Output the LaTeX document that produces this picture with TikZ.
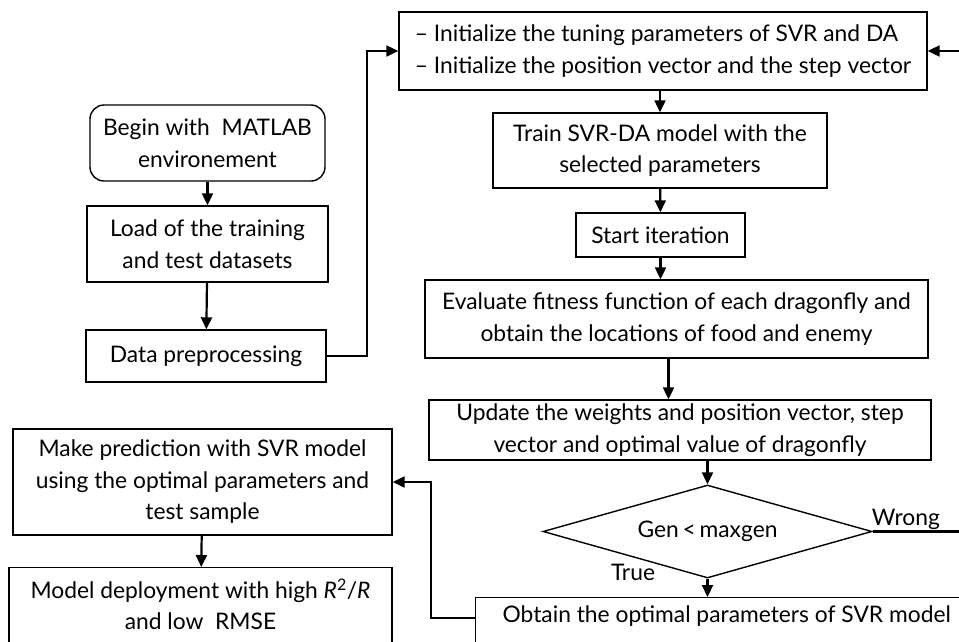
\documentclass[tikz,border=0pt]{standalone}
\usepackage{fontspec}
\setmainfont{Lato}
\usetikzlibrary{arrows.meta,shapes.geometric}
\newcommand\dfont{\fontsize{22.8}{31.5}\selectfont}
\begin{document}
\begin{tikzpicture}[x=1pt,y=-1pt,
  box/.style={draw, line width=1.4pt, rectangle, inner sep=0pt, align=center, font=\dfont},
  arr/.style={line width=2.2pt, -{Triangle[length=12pt,width=11pt]}},
  lab/.style={font=\dfont, inner sep=1pt}]
\useasboundingbox (0,0) rectangle (959,641);
\node[box, minimum width=528, minimum height=78, align=left] (init) at (663,51) {– Initialize the tuning parameters of SVR and DA\\– Initialize the position vector and the step vector};
\node[box, rounded corners=14pt, minimum width=235, minimum height=76] (begin) at (207.5,143) {Begin with\ \ MATLAB\\environement};
\node[box, minimum width=241, minimum height=76] (load) at (207.5,244) {Load of the training\\and test datasets};
\node[box, minimum width=240, minimum height=52] (data) at (206,356) {Data preprocessing};
\node[box, minimum width=334, minimum height=75] (train) at (660,150.5) {Train SVR-DA model with the\\selected parameters};
\node[box, minimum width=169, minimum height=44] (start) at (660.5,235) {Start iteration};
\node[box, minimum width=503, minimum height=78] (eval) at (676.5,319) {Evaluate fitness function of each dragonfly and\\obtain the locations of food and enemy};
\node[box, minimum width=502, minimum height=60] (upd) at (680,430) {Update the weights and position vector, step\\vector and optimal value of dragonfly};
\node[draw, diamond, aspect=3.5, line width=1.4pt, minimum width=329, minimum height=93, inner sep=0pt, font=\dfont] (gen) at (707.5,531.5) {Gen\,<\,maxgen};
\node[box, minimum width=502, minimum height=70, anchor=north west,
  label={[lab, inner sep=8pt, anchor=north]north:Obtain the optimal parameters of SVR model}] (obt) at (475,597) {};
\node[box, minimum width=379, minimum height=106] (pred) at (202.5,482) {Make prediction with SVR model\\using the optimal parameters and\\test sample};
\node[box, minimum width=383, minimum height=100, anchor=north,
  label={[lab, inner sep=12pt, align=center, anchor=north]north:Model deployment with high \textit{R}\textsuperscript{2}/\textit{R}\\and low\ \ RMSE}] (dep) at (200.5,567) {};
\node[lab] (true) at (633,572) {True};
\draw[arr] (begin) -- (load);
\draw[arr] (load) -- (data);
\draw[arr] (data.east) -- ++(40,0) |- (init.west);
\draw[arr] (init.south -| train.north) -- (train.north);
\draw[arr] (train) -- (start);
\draw[arr] (start.south) -- (start.south |- eval.north);
\draw[arr] ([xshift=-8pt]eval.south) -- ([xshift=-8pt]eval.south |- upd.north);
\draw[arr] (upd.south -| gen.north) -- (gen.north);
\draw[arr] (gen.south) -- (gen.south |- obt.north);
\draw[arr] ([yshift=-21pt]obt.north west) -- ++(-44,0) |- (pred.east);
\draw[arr] (pred) -- (dep);
\draw[arr] (gen.east) -- node[lab, pos=0.35, above] {Wrong} ++(95,0) |- (init.east);
\end{tikzpicture}
\end{document}
